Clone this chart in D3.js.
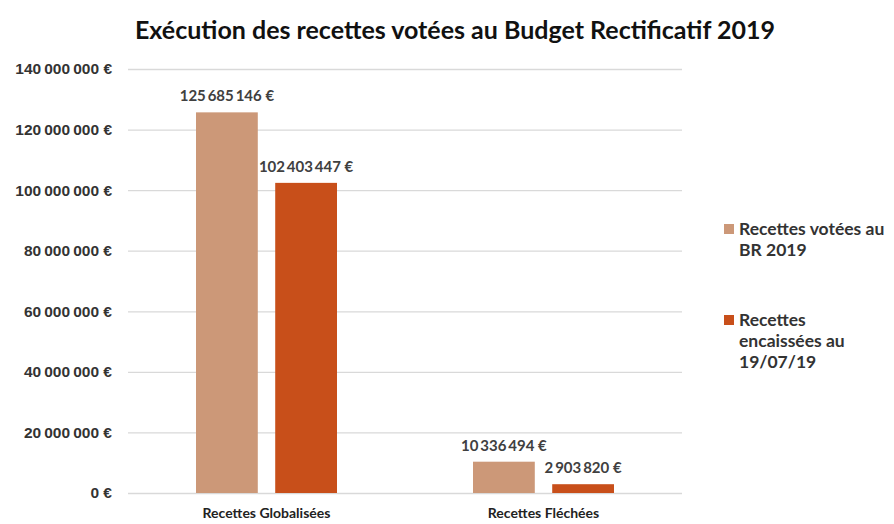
<!DOCTYPE html>
<html lang="fr">
<head>
<meta charset="UTF-8">
<title>Exécution des recettes</title>
<script src="https://d3js.org/d3.v7.min.js"></script>
<style>
  html, body { margin: 0; padding: 0; background: #fff; }
  svg { font-family: Lato, "Open Sans", sans-serif; }
  .title { font-size: 25px; font-weight: bold; fill: #111; }
  .tick text { font-size: 15.5px; font-weight: bold; fill: #333; }
  .cat { font-size: 14px; font-weight: bold; fill: #222; }
  .val { font-size: 15px; font-weight: bold; fill: #404040; }
  .leg { font-size: 17.5px; font-weight: bold; fill: #333; }
</style>
</head>
<body>
<svg width="894" height="524"></svg>
<script>
const categories = ["Recettes Globalisées", "Recettes Fléchées"];
const seriesNames = [["Recettes votées au", "BR 2019"], ["Recettes", "encaissées au", "19/07/19"]];
const votees = [125685146, 10336494];
const encaissees = [102403447, 2903820];
const yTicks = [0, 20000000, 40000000, 60000000, 80000000, 100000000, 120000000, 140000000];
const colors = ["#CC9878", "#C84F1A"];

const svg = d3.select("svg");
const mLeft = 128, mRight = 682, mTop = 69, mBottom = 493;

const fmt = v => d3.format(",")(v).replace(/,/g, "\u2009") + " €";

const x0 = d3.scaleBand().domain(categories).range([mLeft, mRight]).paddingInner(0).paddingOuter(0);
const x1 = d3.scaleBand().domain([0, 1]).range([68, x0.bandwidth() - 68]).paddingInner(0.22);
const y = d3.scaleLinear().domain([0, 140000000]).range([mBottom, mTop]);

svg.append("text").attr("class", "title")
  .attr("x", 455).attr("y", 39).attr("text-anchor", "middle")
  .text("Exécution des recettes votées au Budget Rectificatif 2019");

// grid + y labels
const yAxis = svg.append("g").attr("transform", `translate(${mLeft},0)`)
  .call(d3.axisLeft(y).tickValues(yTicks).tickSize(-(mRight - mLeft)).tickPadding(16).tickFormat(fmt));
yAxis.select(".domain").remove();
yAxis.selectAll(".tick line").attr("stroke", "#d9d9d9").attr("stroke-width", 1.3);

const data = categories.map((c, i) => ({ cat: c, vals: [votees[i], encaissees[i]] }));

const groups = svg.selectAll(".grp").data(data).enter().append("g")
  .attr("transform", d => `translate(${x0(d.cat)},0)`);

groups.selectAll("rect").data(d => d.vals).enter().append("rect")
  .attr("x", (d, i) => x1(i))
  .attr("width", x1.bandwidth())
  .attr("y", d => y(d))
  .attr("height", d => y(0) - y(d))
  .attr("fill", (d, i) => colors[i]);

groups.selectAll(".val").data(d => d.vals).enter().append("text")
  .attr("class", "val")
  .attr("x", (d, i) => x1(i) + x1.bandwidth() / 2)
  .attr("y", d => y(d) - 11)
  .attr("text-anchor", "middle")
  .text(fmt);

svg.selectAll(".cat").data(categories).enter().append("text")
  .attr("class", "cat")
  .attr("x", d => x0(d) + x0.bandwidth() / 2)
  .attr("y", 518)
  .attr("text-anchor", "middle")
  .text(d => d);

// legend
const legY = [229, 320];
seriesNames.forEach((lines, i) => {
  const g = svg.append("g").attr("transform", `translate(724,${legY[i]})`);
  g.append("rect").attr("x", 0).attr("y", -5).attr("width", 10).attr("height", 10).attr("fill", colors[i]);
  lines.forEach((t, j) => {
    g.append("text").attr("class", "leg").attr("x", 15).attr("y", 6 + j * 21).text(t);
  });
});
</script>
</body>
</html>
